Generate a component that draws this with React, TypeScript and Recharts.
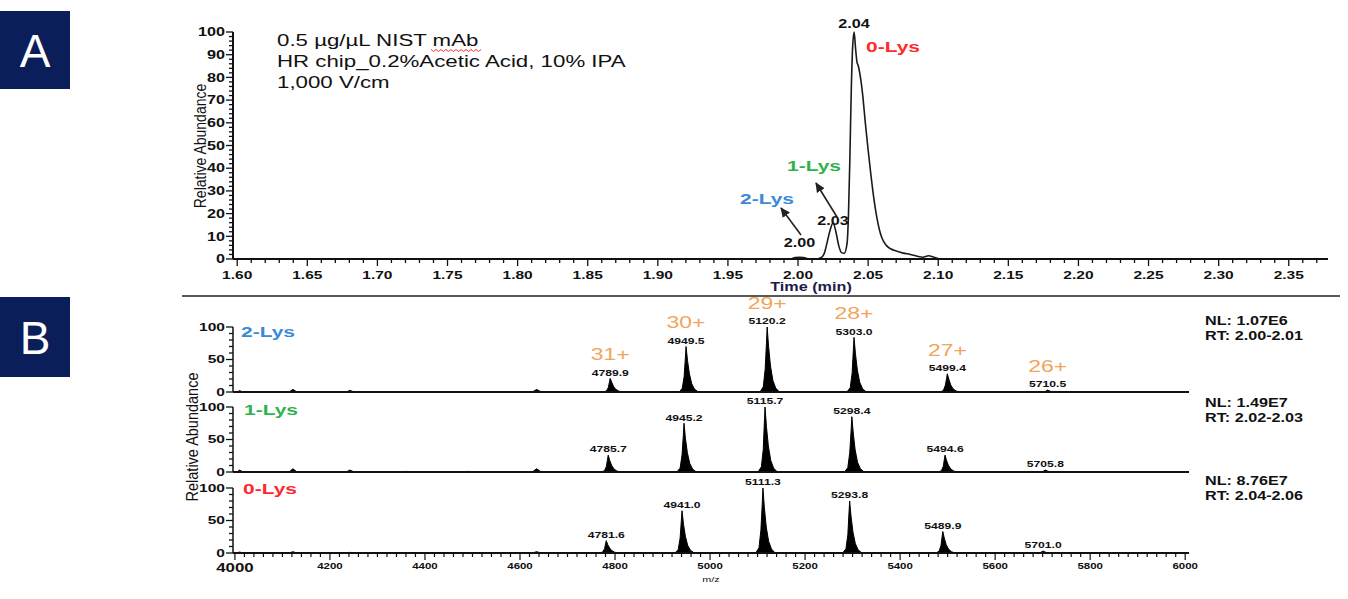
import React from 'react';
import { ComposedChart, Line, Area, Scatter, XAxis, YAxis } from 'recharts';

const FONT = 'Arial, "Liberation Sans", Helvetica, sans-serif';
const SX = 1.35; // the source figure was pasted stretched sideways, so text is widened too

// ---- Panel A: electropherogram ----
const timeMin = [
  1.995, 1.998, 2.001, 2.004, 2.008, 2.013, 2.017, 2.019, 2.021, 2.023, 2.025, 2.027, 2.029, 2.031,
  2.033, 2.035, 2.036, 2.037, 2.038, 2.039, 2.04, 2.041, 2.042, 2.043, 2.044, 2.046, 2.048, 2.05,
  2.052, 2.054, 2.056, 2.058, 2.06, 2.063, 2.066, 2.07, 2.075, 2.08, 2.085, 2.089, 2.093, 2.097, 2.101,
];
const abundance = [
  0, 0.6, 0.8, 0.6, 0.1, 0, 0.8, 3, 8, 13, 16, 12, 6, 2.8,
  2.5, 7, 20, 45, 75, 94, 100, 93, 87, 85, 82, 73, 60, 48,
  37, 27, 19, 13, 9, 6, 4.5, 3.5, 2.6, 2, 1.2, 0.8, 1.4, 0.8, 0,
];
const apexTime = [2.001, 2.025, 2.04];
const apexAbundance = [0.8, 16, 100];
const apexText = ['2.00', '2.03', '2.04'];

// ---- Panel B: spectra, [m/z, relative abundance] ----
const spectrum2Lys: [number, number][] = [
  [3998, 0], [4004, 0], [4010, 2], [4017, 0], [4114, 0], [4122, 4], [4131, 0],
  [4234, 0], [4242, 2.5], [4251, 0], [4355, 0], [4362, 0.8], [4369, 0], [4483, 0], [4490, 0.8], [4497, 0],
  [4626, 0], [4635, 4], [4645, 0],
  [4775, 0], [4782, 1.7], [4786, 7], [4788.4, 16], [4789.9, 21], [4793, 15], [4797, 8.5], [4802, 3.8], [4808, 1.3], [4816, 0],
  [4935, 0], [4941.5, 5.6], [4945.5, 24], [4948, 52], [4949.5, 70], [4952.5, 49], [4956.5, 28], [4961.5, 12.6], [4967.5, 4.2], [4975.5, 0],
  [5105, 0], [5112, 8], [5116, 35], [5118.7, 75], [5120.2, 100], [5123.2, 70], [5127.2, 40], [5132.2, 18], [5138.2, 6], [5146.2, 0],
  [5288, 0], [5295, 6.7], [5299, 29], [5301.5, 63], [5303, 84], [5306, 59], [5310, 34], [5315, 15], [5321, 5], [5329, 0],
  [5484, 0], [5491, 2.2], [5495, 10], [5497.9, 21], [5499.4, 28], [5502.4, 20], [5506.4, 11], [5511.4, 5], [5517.4, 1.7], [5525.4, 0],
  [5700, 0], [5706, 1], [5710.5, 3], [5715, 1.5], [5722, 0], [6005, 0],
];
const spectrum1Lys: [number, number][] = [
  [3998, 0], [4004, 0], [4010, 3], [4017, 0], [4114, 0], [4122, 5], [4131, 0],
  [4234, 0], [4242, 3], [4251, 0], [4355, 0], [4362, 1], [4369, 0], [4483, 0], [4490, 1], [4497, 0],
  [4626, 0], [4635, 5], [4645, 0],
  [4771, 0], [4778, 2.1], [4782, 9], [4784.2, 19.5], [4785.7, 26], [4788.7, 18], [4792.7, 10.4], [4797.7, 4.7], [4803.7, 1.6], [4811.7, 0],
  [4930, 0], [4937, 6], [4941, 26], [4943.7, 56], [4945.2, 75], [4948.2, 52], [4952.2, 30], [4957.2, 13.5], [4963.2, 4.5], [4971.2, 0],
  [5101, 0], [5108, 8], [5112, 35], [5114.2, 75], [5115.7, 100], [5118.7, 70], [5122.7, 40], [5127.7, 18], [5133.7, 6], [5141.7, 0],
  [5283, 0], [5290, 6.8], [5294, 30], [5296.9, 64], [5298.4, 85], [5301.4, 60], [5305.4, 34], [5310.4, 15], [5316.4, 5], [5324.4, 0],
  [5480, 0], [5487, 2.1], [5491, 9], [5493.1, 19.5], [5494.6, 26], [5497.6, 18], [5501.6, 10.4], [5506.6, 4.7], [5512.6, 1.6], [5520.6, 0],
  [5695, 0], [5701, 1], [5705.8, 3], [5710, 1.5], [5717, 0], [6005, 0],
];
const spectrum0Lys: [number, number][] = [
  [3998, 0], [4004, 0], [4010, 1.5], [4017, 0], [4114, 0], [4122, 2], [4131, 0],
  [4234, 0], [4242, 1], [4251, 0], [4626, 0], [4635, 2], [4645, 0],
  [4767, 0], [4774, 1.5], [4778, 6.7], [4780.1, 14], [4781.6, 19], [4784.6, 13], [4788.6, 7.6], [4793.6, 3.4], [4799.6, 1.1], [4807.6, 0],
  [4926, 0], [4933, 5.2], [4937, 23], [4939.5, 49], [4941, 65], [4944, 45], [4948, 26], [4953, 11.7], [4959, 3.9], [4967, 0],
  [5096, 0], [5103, 8], [5107, 35], [5109.8, 75], [5111.3, 100], [5114.3, 70], [5118.3, 40], [5123.3, 18], [5129.3, 6], [5137.3, 0],
  [5279, 0], [5286, 6.4], [5290, 28], [5292.3, 60], [5293.8, 80], [5296.8, 56], [5300.8, 32], [5305.8, 14.4], [5311.8, 4.8], [5319.8, 0],
  [5475, 0], [5482, 2.6], [5486, 11.5], [5488.4, 25], [5489.9, 33], [5492.9, 23], [5496.9, 13], [5501.9, 6], [5507.9, 2], [5515.9, 0],
  [5690, 0], [5696, 1], [5701, 3], [5705, 1.5], [5712, 0], [6005, 0],
];

const apexMz2Lys = [4789.9, 4949.5, 5120.2, 5303.0, 5499.4, 5710.5];
const apexInt2Lys = [21, 70, 100, 84, 28, 3];
const apexMz1Lys = [4785.7, 4945.2, 5115.7, 5298.4, 5494.6, 5705.8];
const apexInt1Lys = [26, 75, 100, 85, 26, 3];
const apexMz0Lys = [4781.6, 4941.0, 5111.3, 5293.8, 5489.9, 5701.0];
const apexInt0Lys = [19, 65, 100, 80, 33, 3];
const chargeStates = ['31+', '30+', '29+', '28+', '27+', '26+'];

// axis ticks (minor ticks every step, labels on majors)
const timeTicks = Array.from({ length: 78 }, (_, i) => (160 + i) / 100);
const abundanceTicks = Array.from({ length: 51 }, (_, i) => i * 2);
const mzTicks = Array.from({ length: 101 }, (_, i) => 4000 + i * 20);
const spectrumTicks = [0, 10, 20, 30, 40, 50, 60, 70, 80, 90, 100];

const BLUE = '#3a8ad6';
const GREEN = '#2fb24c';
const RED = '#ff2a2a';
const ORANGE = '#f2a45c';
const NAVY = '#0a1e5a';

function Txt({ x, y, size, children, anchor = 'start', weight = 'normal', color = '#111', rotate = false, sx = SX }: any) {
  const tf = `translate(${x},${y}) scale(${sx},1)${rotate ? ' rotate(-90)' : ''}`;
  return (
    <text transform={tf} textAnchor={anchor} dominantBaseline="central" fontSize={size}
      fontWeight={weight} fill={color} fontFamily={FONT}>{children}</text>
  );
}

function YTick({ x, y, payload, majors, size }: any) {
  const major = majors.includes(payload.value);
  return (
    <g>
      <line x1={x} x2={x - (major ? 7 : 4)} y1={y} y2={y} stroke="#111" strokeWidth={1.3} />
      {major && <Txt x={x - 8} y={y} size={size} anchor="end" weight="bold">{payload.value}</Txt>}
    </g>
  );
}

function TimeTick({ x, y, payload }: any) {
  const v = payload.value;
  const major = Math.round(v * 100) % 5 === 0;
  return (
    <g>
      <line x1={x} x2={x} y1={y} y2={y + (major ? 7 : 4)} stroke="#111" strokeWidth={1.3} />
      {major && <Txt x={x} y={y + 16} size={11.5} anchor="middle" weight="bold">{v.toFixed(2)}</Txt>}
    </g>
  );
}

function MzTick({ x, y, payload }: any) {
  const v = payload.value;
  const major = v % 200 === 0;
  return (
    <g>
      <line x1={x} x2={x} y1={y} y2={y + (major ? 7 : 4)} stroke="#111" strokeWidth={1.2} />
      {major && (
        <Txt x={x} y={y + (v === 4000 ? 15 : 13)} size={v === 4000 ? 12.5 : 8.5} anchor="middle" weight="bold">{v}</Txt>
      )}
    </g>
  );
}

const apexLift: Record<string, number> = { '2.00': 14, '2.03': 2, '2.04': 8 };

function TimeApexLabel({ cx, cy, payload }: any) {
  return <Txt x={cx} y={cy - apexLift[payload.label]} size={12} anchor="middle" weight="bold">{payload.label}</Txt>;
}

function MzApexLabel({ cx, cy, payload }: any) {
  return (
    <g>
      <Txt x={cx} y={cy - 6} size={9} anchor="middle" weight="bold">{payload.label}</Txt>
      {payload.charge && <Txt x={cx} y={cy - 24} size={17} anchor="middle" color={ORANGE}>{payload.charge}</Txt>}
    </g>
  );
}

function Spectrum({ top, plotTop, data, apexMz, apexInt, showAxis, charges }: any) {
  const rows = data.map(([mz, y]: [number, number]) => ({ mz, y }));
  const apexes = apexMz.map((mz: number, i: number) => ({
    mz, y: apexInt[i], label: mz.toFixed(1), charge: charges ? charges[i] : null,
  }));
  const axisH = showAxis ? 40 : 2;
  const mTop = plotTop - top;
  const mBottom = 10;
  const height = mTop + 65 + axisH + mBottom;
  return (
    <div style={{ position: 'absolute', left: 0, top }}>
      <ComposedChart width={1348} height={height} data={rows}
        margin={{ top: mTop, right: 159, bottom: mBottom, left: 193 }}>
        <XAxis dataKey="mz" type="number" domain={[3996, 6008]} allowDataOverflow
          ticks={showAxis ? mzTicks : []} interval={0} height={axisH} tickSize={0} tickMargin={0}
          axisLine={{ stroke: '#111', strokeWidth: 2 }} tickLine={false}
          tick={showAxis ? (p: any) => <MzTick {...p} /> : false} />
        <YAxis type="number" domain={[0, 100]} ticks={spectrumTicks} interval={0} width={40}
          tickSize={0} tickMargin={0} axisLine={{ stroke: '#111', strokeWidth: 1.5 }} tickLine={false}
          tick={(p: any) => <YTick {...p} majors={[0, 50, 100]} size={11.5} />} />
        <Area type="linear" dataKey="y" stroke="#000" strokeWidth={1} fill="#000" fillOpacity={1}
          isAnimationActive={false} />
        <Scatter data={apexes} dataKey="y" isAnimationActive={false}
          shape={(p: any) => <MzApexLabel {...p} />} />
      </ComposedChart>
    </div>
  );
}

function Squiggle({ x0, x1, y }: any) {
  const pts: string[] = [];
  for (let x = x0, k = 0; x <= x1; x += 2.5, k++) pts.push(`${x},${y + (k % 2 ? 2 : 0)}`);
  return <polyline points={pts.join(' ')} fill="none" stroke="#e33" strokeWidth={1} />;
}

export default function App() {
  const chromRows = timeMin.map((t, i) => ({ t, a: abundance[i] }));
  const apexRowsA = apexTime.map((t, i) => ({ t, a: apexAbundance[i], label: apexText[i] }));

  return (
    <div style={{ position: 'absolute', left: 0, top: 0, width: 1348, height: 599, background: '#fff', fontFamily: FONT }}>
      {/* A: electropherogram */}
      <div style={{ position: 'absolute', left: 0, top: 0 }}>
        <ComposedChart width={1348} height={300} data={chromRows} margin={{ top: 32, right: 20, bottom: 1, left: 193 }}>
          <XAxis dataKey="t" type="number" domain={[1.597, 2.378]} allowDataOverflow ticks={timeTicks}
            interval={0} height={40} tickSize={0} tickMargin={0}
            axisLine={{ stroke: '#111', strokeWidth: 2 }} tickLine={false}
            tick={(p: any) => <TimeTick {...p} />} />
          <YAxis type="number" domain={[0, 100]} ticks={abundanceTicks} interval={0} width={40}
            tickSize={0} tickMargin={0} axisLine={{ stroke: '#111', strokeWidth: 2 }} tickLine={false}
            tick={(p: any) => <YTick {...p} majors={[0, 10, 20, 30, 40, 50, 60, 70, 80, 90, 100]} size={12} />} />
          <Line type="monotone" dataKey="a" stroke="#1a1a1a" strokeWidth={1.6} dot={false} isAnimationActive={false} />
          <Scatter data={apexRowsA} dataKey="a" isAnimationActive={false}
            shape={(p: any) => <TimeApexLabel {...p} />} />
        </ComposedChart>
      </div>

      {/* B: spectra for each lysine variant */}
      <Spectrum top={288} plotTop={327} data={spectrum2Lys} apexMz={apexMz2Lys} apexInt={apexInt2Lys} charges={chargeStates} />
      <Spectrum top={397} plotTop={407} data={spectrum1Lys} apexMz={apexMz1Lys} apexInt={apexInt1Lys} />
      <Spectrum top={478} plotTop={488} data={spectrum0Lys} apexMz={apexMz0Lys} apexInt={apexInt0Lys} showAxis />

      {/* annotations */}
      <svg width={1348} height={599} style={{ position: 'absolute', left: 0, top: 0, pointerEvents: 'none' }}>
        <defs>
          <marker id="head" markerUnits="userSpaceOnUse" markerWidth={10} markerHeight={10} refX={9} refY={5} orient="auto">
            <path d="M0,0.5 L10,5 L0,9.5 z" fill="#222" />
          </marker>
        </defs>

        <rect x={0} y={11} width={70} height={78} fill={NAVY} />
        <Txt x={35} y={51} size={46} anchor="middle" color="#fff" sx={1}>A</Txt>
        <rect x={0} y={297} width={70} height={80} fill={NAVY} />
        <Txt x={35} y={338} size={46} anchor="middle" color="#fff" sx={1}>B</Txt>

        <Txt x={277} y={40.5} size={16.5}>0.5 µg/µL NIST mAb</Txt>
        <Squiggle x0={431} x1={482} y={49.5} />
        <Txt x={277} y={61} size={16.5}>HR chip_0.2%Acetic Acid, 10% IPA</Txt>
        <Txt x={277} y={82.5} size={16.5}>1,000 V/cm</Txt>

        <Txt x={199} y={146} size={14} rotate sx={1.2}>
          <tspan textAnchor="middle">Relative Abundance</tspan>
        </Txt>
        <Txt x={811} y={287} size={12} anchor="middle" weight="bold" color="#1e1a4a">Time (min)</Txt>

        <Txt x={893} y={47} size={15.5} anchor="middle" weight="bold" color={RED}>0-Lys</Txt>
        <Txt x={814} y={166} size={15.5} anchor="middle" weight="bold" color={GREEN}>1-Lys</Txt>
        <Txt x={767} y={199} size={15.5} anchor="middle" weight="bold" color={BLUE}>2-Lys</Txt>
        <line x1={837} y1={217} x2={816} y2={183} stroke="#222" strokeWidth={1.6} markerEnd="url(#head)" />
        <line x1={801} y1={235} x2={781} y2={208} stroke="#222" strokeWidth={1.6} markerEnd="url(#head)" />

        <line x1={182} y1={296} x2={1340} y2={296} stroke="#222" strokeWidth={1.6} />

        <Txt x={191} y={437} size={14.5} rotate sx={1.2}>
          <tspan textAnchor="middle">Relative Abundance</tspan>
        </Txt>
        <Txt x={268} y={332} size={15.5} anchor="middle" weight="bold" color={BLUE}>2-Lys</Txt>
        <Txt x={271} y={410} size={15.5} anchor="middle" weight="bold" color={GREEN}>1-Lys</Txt>
        <Txt x={270} y={489} size={15.5} anchor="middle" weight="bold" color={RED}>0-Lys</Txt>

        <Txt x={1205} y={321} size={12} weight="bold">NL: 1.07E6</Txt>
        <Txt x={1205} y={336} size={12} weight="bold">RT: 2.00-2.01</Txt>
        <Txt x={1205} y={403} size={12} weight="bold">NL: 1.49E7</Txt>
        <Txt x={1205} y={418} size={12} weight="bold">RT: 2.02-2.03</Txt>
        <Txt x={1205} y={481} size={12} weight="bold">NL: 8.76E7</Txt>
        <Txt x={1205} y={496} size={12} weight="bold">RT: 2.04-2.06</Txt>

        <Txt x={711} y={579} size={8} anchor="middle">m/z</Txt>
      </svg>
    </div>
  );
}
